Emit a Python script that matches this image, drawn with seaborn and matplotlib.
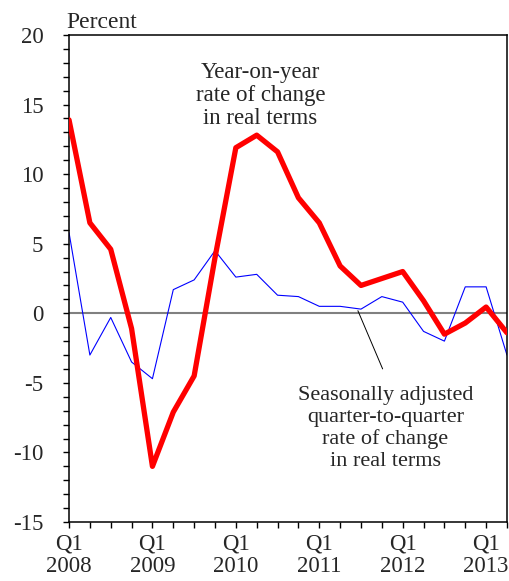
import pandas as pd
import matplotlib.pyplot as plt
from matplotlib.ticker import MultipleLocator
import seaborn as sns

# quarters Q1 2008 .. Q2 2013
years = [2008, 2009, 2010, 2011, 2012, 2013]
yoy = [13.9, 6.5, 4.6, -1.1, -11.0, -7.1, -4.5, 4.0, 11.9, 12.8, 11.6,
       8.3, 6.5, 3.4, 2.0, 2.5, 3.0, 0.9, -1.5, -0.7, 0.45, -1.4]
qoq = [5.8, -3.0, -0.3, -3.5, -4.7, 1.7, 2.4, 4.5, 2.6, 2.8, 1.3,
       1.2, 0.5, 0.5, 0.3, 1.2, 0.8, -1.3, -2.0, 1.9, 1.9, -3.0]

df = pd.DataFrame({"q": range(len(yoy)), "yoy": yoy, "qoq": qoq})

sns.set_style("white")
plt.rcParams["font.family"] = ["Liberation Serif", "DejaVu Serif"]
plt.rcParams["axes.unicode_minus"] = False

fig = plt.figure(figsize=(5.09, 5.81), dpi=100)
ax = fig.add_axes([0.1356, 0.1015, 0.8604, 0.8383])

ax.axhline(0, color="#808080", lw=1.5, zorder=1)
sns.lineplot(data=df, x="q", y="qoq", color="blue", lw=0.8, ax=ax, zorder=2)
sns.lineplot(data=df, x="q", y="yoy", color="red", lw=3.8, ax=ax, zorder=3)

ax.set_xlim(0, len(yoy) - 1)
ax.set_ylim(-15, 20)
ax.set_xticks(range(0, len(yoy), 4))
ax.set_xticklabels([f"Q1\n{y}" for y in years], linespacing=1.1)
ax.xaxis.set_minor_locator(MultipleLocator(1))
ax.yaxis.set_major_locator(MultipleLocator(5))
ax.yaxis.set_minor_locator(MultipleLocator(1))
ax.set_xlabel("")
ax.set_ylabel("")
ax.tick_params(axis="both", which="both", direction="out", length=4.5,
               width=1, color="black", labelsize=16.5, left=True, bottom=True)
ax.tick_params(axis="y", pad=14)
ax.tick_params(axis="x", pad=4)
for s in ax.spines.values():
    s.set_color("black")
    s.set_linewidth(1.1)

ax.text(-0.006, 1.005, "Percent", transform=ax.transAxes, ha="left",
        va="bottom", fontsize=17)
ax.text(9.17, 15.65, "Year-on-year\nrate of change\nin real terms",
        ha="center", va="center", fontsize=16.5, linespacing=1.12)
ax.text(15.17, -8.27,
        "Seasonally adjusted\nquarter-to-quarter\nrate of change\nin real terms",
        ha="center", va="center", fontsize=16, linespacing=1.18)
ax.annotate("", xy=(13.8, 0.37), xytext=(15.09, -4.18),
            arrowprops=dict(arrowstyle="-", color="black", lw=0.7))

fig.savefig("out.png", dpi=100)
